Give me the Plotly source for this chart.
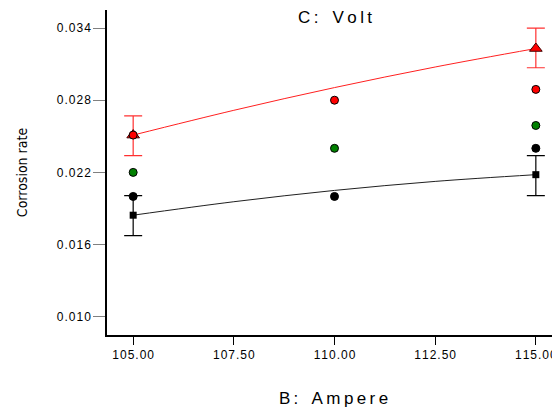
import plotly.graph_objects as go

# Observed design points (B: Ampere) and corrosion rate values
ampere = [105.0, 110.0, 115.0]
obs_red = [0.0251, 0.0280, 0.0289]
obs_green = [0.0220, 0.0240, 0.0259]
obs_black = [0.0200, 0.0200, 0.0240]

# Model curves
curve_x = [105.0, 107.5, 110.0, 112.5, 115.0]
curve_high = [0.0251, 0.02716, 0.02905, 0.03076, 0.0323]
curve_low = [0.01844, 0.01956, 0.0205, 0.02125, 0.02181]

# Predicted end points with their interval limits
pred_x = [105.0, 115.0]
pred_high = [0.0251, 0.0323]
pred_high_lo = [0.0234, 0.0307]
pred_high_hi = [0.0267, 0.0340]
pred_low = [0.01844, 0.02181]
pred_low_lo = [0.01675, 0.02006]
pred_low_hi = [0.02006, 0.02339]

x_ticks = [105.0, 107.5, 110.0, 112.5, 115.0]
y_ticks = [0.010, 0.016, 0.022, 0.028, 0.034]

HS = "\u200a"   # hair space, small gaps in tick labels
TS = "\u2009"   # thin space, wider gaps in titles


def spaced(s, sep=HS):
    # widen text a bit like the original figure
    return sep.join(s)


fig = go.Figure()

fig.add_trace(go.Scatter(x=curve_x, y=curve_high, mode="lines",
                         line=dict(color="#ff2020", width=1, shape="spline")))
fig.add_trace(go.Scatter(x=curve_x, y=curve_low, mode="lines",
                         line=dict(color="#202020", width=1, shape="spline")))

fig.add_trace(go.Scatter(
    x=pred_x, y=pred_high, mode="markers",
    marker=dict(symbol="triangle-up", size=11, color="#ff0000",
                line=dict(color="#400000", width=1)),
    error_y=dict(type="data", symmetric=False,
                 array=[h - v for h, v in zip(pred_high_hi, pred_high)],
                 arrayminus=[v - l for l, v in zip(pred_high_lo, pred_high)],
                 color="#ff3030", thickness=1.2, width=9)))
fig.add_trace(go.Scatter(
    x=pred_x, y=pred_low, mode="markers",
    marker=dict(symbol="square", size=7, color="#000000"),
    error_y=dict(type="data", symmetric=False,
                 array=[h - v for h, v in zip(pred_low_hi, pred_low)],
                 arrayminus=[v - l for l, v in zip(pred_low_lo, pred_low)],
                 color="#000000", thickness=1.2, width=9)))

for vals, col in [(obs_black, "#000000"), (obs_green, "#008000"), (obs_red, "#ff0000")]:
    fig.add_trace(go.Scatter(x=ampere, y=vals, mode="markers",
                             marker=dict(symbol="circle", size=8, color=col,
                                         line=dict(color="#000000", width=1))))

fig.add_annotation(x=110, y=1.0, xref="x", yref="paper", yanchor="middle", yshift=-7,
                   text=spaced("C:", TS) + "   " + spaced("Volt", TS), showarrow=False,
                   font=dict(family="Liberation Sans", size=17, color="#000000"))

# page has an 8px body margin, so the figure is a bit smaller than the window
fig.update_layout(
    width=552, height=402,
    margin=dict(l=99, r=0, t=2, b=75),
    paper_bgcolor="white", plot_bgcolor="white",
    showlegend=False,
    font=dict(family="Liberation Sans", color="#000000"),
)
fig.update_xaxes(
    range=[104.35, 115.6], showgrid=False, zeroline=False,
    showline=True, linecolor="#000000", linewidth=1.5,
    ticks="outside", ticklen=8, tickcolor="#000000",
    tickvals=x_ticks, ticktext=[spaced(f"{v:.2f}") for v in x_ticks],
    tickfont=dict(size=12),
    title=dict(text=spaced("B:", TS) + "   " + spaced("Ampere", TS),
               font=dict(size=17), standoff=31),
)
fig.update_yaxes(
    range=[0.00848, 0.0355], showgrid=False, zeroline=False,
    showline=True, linecolor="#000000", linewidth=1.5,
    ticks="outside", ticklen=12, tickcolor="#808080",
    tickvals=y_ticks, ticktext=[spaced(f"{v:.3f}") for v in y_ticks],
    tickfont=dict(size=12),
    title=dict(text="Corrosion rate",
               font=dict(family="DejaVu Sans Condensed", size=14), standoff=26),
)

fig.write_html("out.html")
